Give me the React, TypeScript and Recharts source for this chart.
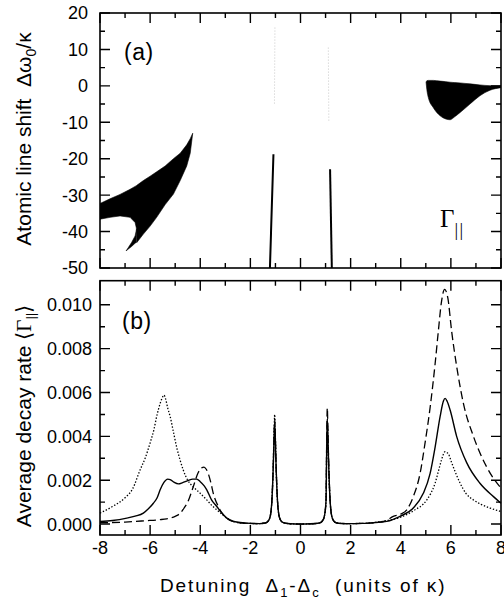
import { ComposedChart, Line, Area, XAxis, YAxis } from 'recharts';

const FONT = '"Liberation Sans", Arial, Helvetica, sans-serif';
const SERIF = '"Liberation Serif", "Times New Roman", serif';

// panel (a): black regions, rows are [x, low, high]
const leftBand: [number, number, number][] = [
  [-8, -36.6, -32.3],
  [-7.6, -36.1, -31.0],
  [-7.2, -35.7, -29.8],
  [-6.8, -36.1, -28.4],
  [-6.6, -37.5, -27.6],
  [-6.55, -39.0, -27.4],
  [-6.53, -43.0, -27.3],
  [-6.27, -40.7, -26.0],
  [-6.0, -38.5, -24.8],
  [-5.74, -36.1, -23.6],
  [-5.4, -32.6, -22.0],
  [-5.07, -29.7, -20.0],
  [-4.8, -26.0, -18.5],
  [-4.54, -22.0, -16.2],
  [-4.4, -18.5, -14.5],
  [-4.3, -13.0, -13.0],
];

const leftTongue: [number, number, number][] = [
  [-6.96, -45.3, -45.3],
  [-6.87, -44.8, -44.4],
  [-6.74, -44.1, -43.0],
  [-6.6, -43.2, -41.2],
  [-6.54, -42.9, -39.3],
];

const rightBlob: [number, number, number][] = [
  [5.01, 1.0, 1.0],
  [5.04, -1.0, 1.4],
  [5.1, -3.2, 1.5],
  [5.3, -6.0, 1.5],
  [5.57, -8.2, 1.3],
  [5.8, -9.1, 1.15],
  [5.97, -9.3, 1.0],
  [6.15, -8.5, 0.9],
  [6.37, -7.3, 0.8],
  [6.76, -5.0, 0.55],
  [7.16, -2.7, 0.25],
  [7.56, -1.2, 0.05],
  [8.0, -0.5, 0.0],
];

const leftSpike: [number, number][] = [[-1.08, -18.8], [-1.22, -50]];
const rightSpike: [number, number][] = [[1.18, -22.9], [1.25, -50]];
const leftTrace: [number, number][] = [[-1.02, 16], [-1.04, -5]];
const rightTrace: [number, number][] = [[1.11, 10.5], [1.13, -9.6]];

// panel (b): average decay rate, rows are [x, rate]
const solidRate: [number, number][] = [
  [-8, 0.00012], [-7.5, 0.00016], [-6.93, 0.00027], [-6.6, 0.00036], [-6.27, 0.0005],
  [-6.05, 0.00072], [-5.87, 0.00095], [-5.72, 0.0012], [-5.6, 0.00156], [-5.45, 0.0019],
  [-5.3, 0.00205], [-5.2, 0.00203], [-5.05, 0.00191], [-4.87, 0.00183], [-4.7, 0.00189],
  [-4.5, 0.00198], [-4.3, 0.00205], [-4.14, 0.00205], [-4.0, 0.00193], [-3.85, 0.00175],
  [-3.74, 0.00156], [-3.55, 0.0011], [-3.34, 0.0008], [-3.14, 0.0005], [-2.94, 0.00027],
  [-2.7, 0.00013], [-2.41, 0.00007], [-2.0, 0.00003], [-1.65, 0.00002], [-1.4, 0.00005],
  [-1.28, 0.00015], [-1.2, 0.0004], [-1.14, 0.0011], [-1.09, 0.0025], [-1.055, 0.0039],
  [-1.03, 0.0046], [-1.005, 0.0039], [-0.97, 0.0025], [-0.92, 0.0011], [-0.86, 0.0004],
  [-0.78, 0.00015], [-0.66, 0.00005], [-0.4, 0.00001], [0, 0], [0.4, 0.00001],
  [0.76, 0.00005], [0.88, 0.00015], [0.96, 0.0004], [1.02, 0.0011], [1.035, 0.0025],
  [1.05, 0.0039], [1.07, 0.0048], [1.095, 0.0039], [1.13, 0.0025], [1.18, 0.0011],
  [1.24, 0.0004], [1.32, 0.00015], [1.44, 0.00005], [1.8, 0.00002], [2.5, 0.00003],
  [3.0, 0.00007], [3.44, 0.00012], [3.97, 0.00035], [4.5, 0.00073], [4.9, 0.0014],
  [5.17, 0.0023], [5.37, 0.0035], [5.57, 0.0049], [5.7, 0.0056], [5.77, 0.00573],
  [5.85, 0.0056], [5.97, 0.0052], [6.23, 0.004], [6.63, 0.0028], [7.16, 0.00186],
  [7.7, 0.00125], [8, 0.00095],
];

const dashedRate: [number, number][] = [
  [-8, 0.00006], [-7.0, 0.00009], [-6.2, 0.00015], [-5.6, 0.0002], [-5.34, 0.00024],
  [-5.0, 0.00035], [-4.81, 0.00048], [-4.65, 0.00072], [-4.48, 0.00105], [-4.28, 0.0017],
  [-4.08, 0.00235], [-3.95, 0.00256], [-3.85, 0.0026], [-3.76, 0.0025], [-3.68, 0.0023],
  [-3.58, 0.0019], [-3.48, 0.0014], [-3.28, 0.0008], [-3.1, 0.00045], [-2.94, 0.00027],
  [-2.7, 0.00012], [-2.3, 0.00004], [-1.65, 0.00002], [-1.4, 0.00005], [-1.28, 0.00015],
  [-1.2, 0.0004], [-1.14, 0.0011], [-1.09, 0.0025], [-1.055, 0.004], [-1.03, 0.0048],
  [-1.005, 0.004], [-0.97, 0.0025], [-0.92, 0.0011], [-0.86, 0.0004], [-0.78, 0.00015],
  [-0.66, 0.00005], [-0.4, 0.00001], [0, 0], [0.4, 0.00001], [0.76, 0.00005],
  [0.88, 0.00015], [0.96, 0.0004], [1.02, 0.0011], [1.035, 0.0027], [1.05, 0.0043],
  [1.07, 0.0053], [1.095, 0.0042], [1.13, 0.0026], [1.18, 0.0011], [1.24, 0.0004],
  [1.32, 0.00015], [1.44, 0.00005], [1.8, 0.00002], [2.5, 0.00003], [3.0, 0.00006],
  [3.4, 0.00014], [3.7, 0.00035], [4.0, 0.00045], [4.24, 0.00065], [4.5, 0.00125],
  [4.77, 0.0023], [4.97, 0.0037], [5.17, 0.0053], [5.37, 0.0073], [5.5, 0.0088],
  [5.62, 0.0101], [5.75, 0.0107], [5.88, 0.0103], [6.03, 0.0088], [6.23, 0.0072],
  [6.5, 0.0055], [6.9, 0.004], [7.43, 0.0026], [7.96, 0.0017], [8, 0.00165],
];

const dottedRate: [number, number][] = [
  [-8, 0.0005], [-7.5, 0.0008], [-7.0, 0.0012], [-6.7, 0.0016], [-6.4, 0.00247],
  [-6.2, 0.003], [-6.0, 0.0037], [-5.85, 0.0043], [-5.74, 0.0049], [-5.6, 0.0055],
  [-5.5, 0.0058], [-5.45, 0.00588], [-5.38, 0.0057], [-5.3, 0.0053], [-5.2, 0.0049],
  [-5.07, 0.0042], [-4.94, 0.0035], [-4.8, 0.0029], [-4.68, 0.00247], [-4.5, 0.002],
  [-4.28, 0.0017], [-4.0, 0.0014], [-3.74, 0.0011], [-3.54, 0.00085], [-3.34, 0.00065],
  [-3.14, 0.00045], [-2.94, 0.00027], [-2.7, 0.00013], [-2.3, 0.00004], [-1.65, 0.00002],
  [-1.4, 0.00005], [-1.28, 0.00015], [-1.2, 0.0004], [-1.14, 0.0011], [-1.09, 0.0026],
  [-1.055, 0.0042], [-1.03, 0.005], [-1.005, 0.0041], [-0.97, 0.0025], [-0.92, 0.0011],
  [-0.86, 0.0004], [-0.78, 0.00015], [-0.66, 0.00005], [-0.4, 0.00001], [0, 0],
  [0.4, 0.00001], [0.76, 0.00005], [0.88, 0.00015], [0.96, 0.0004], [1.02, 0.0011],
  [1.035, 0.0025], [1.05, 0.0038], [1.07, 0.0046], [1.095, 0.0038], [1.13, 0.0024],
  [1.18, 0.0011], [1.24, 0.0004], [1.32, 0.00015], [1.44, 0.00005], [1.8, 0.00002],
  [2.5, 0.00003], [3.0, 0.00008], [3.5, 0.00017], [3.97, 0.0003], [4.5, 0.0006],
  [5.04, 0.0011], [5.2, 0.0014], [5.37, 0.00186], [5.5, 0.0024], [5.62, 0.0029],
  [5.77, 0.0033], [5.9, 0.0032], [6.03, 0.0028], [6.2, 0.0023], [6.37, 0.00186],
  [6.6, 0.0014], [6.9, 0.0011], [7.2, 0.0009], [7.56, 0.00073], [8, 0.00057],
];

const xTicks = [-8, -7, -6, -5, -4, -3, -2, -1, 0, 1, 2, 3, 4, 5, 6, 7, 8];
const shiftTicks = [-50, -45, -40, -35, -30, -25, -20, -15, -10, -5, 0, 5, 10, 15, 20];
const rateTicks = [0, 0.001, 0.002, 0.003, 0.004, 0.005, 0.006, 0.007, 0.008, 0.009, 0.01];

const X_DOMAIN = [-8, 8];
const SHIFT_DOMAIN = [-50, 20];
const RATE_DOMAIN = [-0.0005, 0.0111];

const toRange = (rows: [number, number, number][]) => rows.map(([x, lo, hi]) => ({ x, r: [lo, hi] }));
const toPts = (rows: [number, number][]) => rows.map(([x, y]) => ({ x, y }));

const isMajorX = (v: number) => Math.round(v) % 2 === 0;
const isMajorShift = (v: number) => Math.round(v) % 10 === 0;
const isMajorRate = (v: number) => Math.round(v * 1000) % 2 === 0;

const TICK_FS = 18;

// plot boxes on the page (left, right, top, bottom)
const BOX_A = { l: 100, r: 501, t: 13, b: 268 };
const BOX_B = { l: 100, r: 501, t: 280.7, b: 535 };

const leftLabel = (major: (v: number) => boolean, fmt: (v: number) => string, gap: number) => (p: any) => {
  const v = p.payload.value;
  if (!major(v)) return <g />;
  return (
    <text x={Number(p.x) - gap} y={Number(p.y)} dy="0.36em" textAnchor="end" fontSize={TICK_FS} fontFamily={FONT} fill="#000">
      {fmt(v)}
    </text>
  );
};

const bottomLabel = (p: any) => {
  const v = p.payload.value;
  if (!isMajorX(v)) return <g />;
  return (
    <text x={Number(p.x)} y={Number(p.y) + 19} textAnchor="middle" fontSize={TICK_FS} fontFamily={FONT} fill="#000">
      {String(v)}
    </text>
  );
};

// box round a panel with inward ticks on all four sides
function FrameBox({ box, yDomain, yTicks, yMajor }: any) {
  const sx = (v: number) => box.l + ((v - X_DOMAIN[0]) / (X_DOMAIN[1] - X_DOMAIN[0])) * (box.r - box.l);
  const sy = (v: number) => box.b - ((v - yDomain[0]) / (yDomain[1] - yDomain[0])) * (box.b - box.t);
  let d = '';
  xTicks.forEach((v) => {
    const len = isMajorX(v) ? 10 : 5;
    const x = sx(v);
    d += `M${x},${box.b}V${box.b - len}M${x},${box.t}V${box.t + len}`;
  });
  yTicks.forEach((v: number) => {
    const len = yMajor(v) ? 10 : 5;
    const y = sy(v);
    d += `M${box.l},${y}H${box.l + len}M${box.r},${y}H${box.r - len}`;
  });
  return (
    <g>
      <rect x={box.l} y={box.t} width={box.r - box.l} height={box.b - box.t} fill="none" stroke="#000" strokeWidth={1.6} />
      <path d={d} fill="none" stroke="#000" strokeWidth={1.4} />
    </g>
  );
}

function ShiftPanel() {
  const common = { xAxisId: 'b', yAxisId: 'l', isAnimationActive: false, dot: false, activeDot: false } as const;
  const fillBlack = { stroke: '#000', strokeWidth: 0.6, fill: '#000', fillOpacity: 1 };
  return (
    <ComposedChart width={504} height={280} margin={{ top: 13, right: 3, bottom: 0, left: 0 }}>
      <XAxis xAxisId="b" type="number" dataKey="x" domain={X_DOMAIN} ticks={xTicks} interval={0}
        height={12} tickLine={false} axisLine={false} tick={false} />
      <YAxis yAxisId="l" type="number" domain={SHIFT_DOMAIN} ticks={shiftTicks} interval={0}
        width={100} tickSize={0} tickMargin={0} tickLine={false} axisLine={false}
        tick={leftLabel(isMajorShift, (v) => String(v), 12)} />
      <Area {...common} {...fillBlack} data={toRange(leftBand)} dataKey="r" type="linear" />
      <Area {...common} {...fillBlack} data={toRange(leftTongue)} dataKey="r" type="linear" />
      <Area {...common} {...fillBlack} data={toRange(rightBlob)} dataKey="r" type="monotone" />
      <Line {...common} data={toPts(leftTrace)} dataKey="y" type="linear" stroke="#c8c8c8" strokeWidth={1} strokeDasharray="1 2" />
      <Line {...common} data={toPts(rightTrace)} dataKey="y" type="linear" stroke="#c8c8c8" strokeWidth={1} strokeDasharray="1 2" />
      <Line {...common} data={toPts(leftSpike)} dataKey="y" type="linear" stroke="#000" strokeWidth={2} />
      <Line {...common} data={toPts(rightSpike)} dataKey="y" type="linear" stroke="#000" strokeWidth={2} />
    </ComposedChart>
  );
}

function RatePanel() {
  const common = { xAxisId: 'b', yAxisId: 'l', isAnimationActive: false, dot: false, activeDot: false, type: 'monotone', dataKey: 'y' } as const;
  return (
    <ComposedChart width={504} height={324} margin={{ top: 0.7, right: 3, bottom: 29, left: 0 }}>
      <XAxis xAxisId="b" type="number" dataKey="x" domain={X_DOMAIN} ticks={xTicks} interval={0}
        height={40} tickSize={0} tickMargin={0} tickLine={false} axisLine={false} tick={bottomLabel} />
      <YAxis yAxisId="l" type="number" domain={RATE_DOMAIN} ticks={rateTicks} interval={0}
        width={100} tickSize={0} tickMargin={0} tickLine={false} axisLine={false}
        tick={leftLabel(isMajorRate, (v) => v.toFixed(3), 8)} />
      <Line {...common} data={toPts(dottedRate)} stroke="#000" strokeWidth={1.3} strokeDasharray="1.4 1.8" />
      <Line {...common} data={toPts(dashedRate)} stroke="#000" strokeWidth={1.3} strokeDasharray="8 4" />
      <Line {...common} data={toPts(solidRate)} stroke="#000" strokeWidth={1.4} />
    </ComposedChart>
  );
}

export default function App() {
  return (
    <div style={{ position: 'absolute', left: 0, top: 0, width: 504, height: 604, background: '#fff', fontFamily: FONT }}>
      <ShiftPanel />
      <RatePanel />
      <svg width={504} height={604} style={{ position: 'absolute', left: 0, top: 0, pointerEvents: 'none' }}>
        <FrameBox box={BOX_A} yDomain={SHIFT_DOMAIN} yTicks={shiftTicks} yMajor={isMajorShift} />
        <FrameBox box={BOX_B} yDomain={RATE_DOMAIN} yTicks={rateTicks} yMajor={isMajorRate} />
        <g fontFamily={FONT} fill="#000">
          <text x={124} y={60} fontSize={23} letterSpacing={0.5}>(a)</text>
          <text x={122} y={329} fontSize={23} letterSpacing={0.5}>(b)</text>
          <text x={440} y={227} fontSize={25} fontFamily={SERIF}>
            Γ<tspan fontSize={18} dy={9} letterSpacing={1.5}>||</tspan>
          </text>
          <text transform="translate(31,139) rotate(-90)" textAnchor="middle" fontSize={21} style={{ whiteSpace: 'pre' }}>
            {'Atomic line shift  Δω'}<tspan fontSize={14} dy={5}>0</tspan><tspan dy={-5}>/κ</tspan>
          </text>
          <text transform="translate(31,416) rotate(-90)" textAnchor="middle" fontSize={21} style={{ whiteSpace: 'pre' }}>
            {'Average decay rate '}⟨<tspan fontFamily={SERIF}>Γ</tspan><tspan fontSize={13} dy={4}>||</tspan><tspan dy={-4}>⟩</tspan>
          </text>
          <text x={160} y={592} fontSize={19} letterSpacing={1.9} style={{ whiteSpace: 'pre' }}>
            {'Detuning  Δ'}<tspan fontSize={13} dy={5}>1</tspan><tspan dy={-5}>-Δ</tspan><tspan fontSize={13} dy={5}>c</tspan><tspan dy={-5}>{'  (units of κ)'}</tspan>
          </text>
        </g>
      </svg>
    </div>
  );
}
